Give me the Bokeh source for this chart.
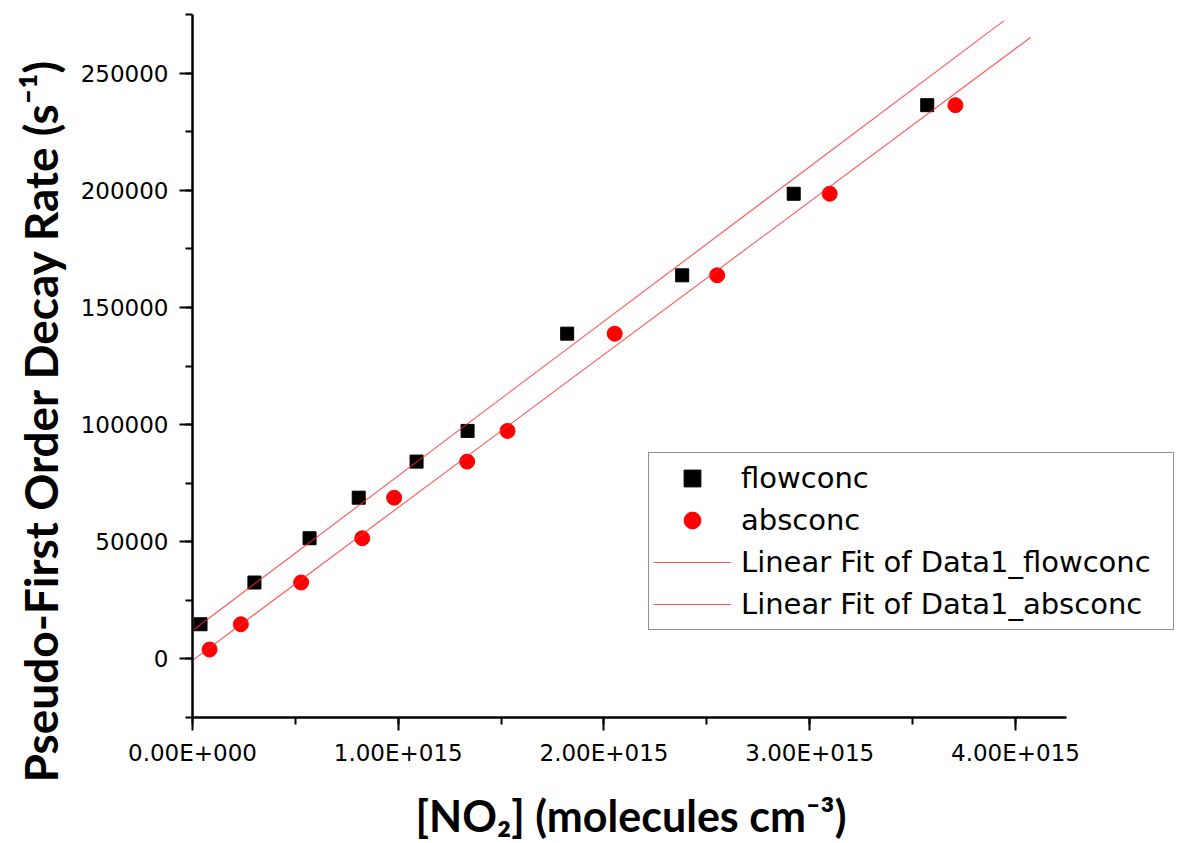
import math
from bokeh.plotting import figure
from bokeh.models import (Range1d, SingleIntervalTicker, CustomJSTickFormatter,
                          NumeralTickFormatter, Legend, LegendItem, Title)
from bokeh.embed import file_html
from bokeh.resources import INLINE

# ---- data ----
flow_x = [0.039e15, 0.301e15, 0.569e15, 0.808e15, 1.089e15, 1.337e15,
          1.821e15, 2.380e15, 2.922e15, 3.571e15]
flow_y = [14800, 32600, 51500, 68800, 84200, 97300, 138800, 163700, 198500, 236300]

abs_x = [0.083e15, 0.235e15, 0.528e15, 0.825e15, 0.980e15, 1.335e15,
         1.531e15, 2.052e15, 2.550e15, 3.097e15, 3.708e15]
abs_y = [4000, 14800, 32600, 51500, 68800, 84200, 97300, 138800, 163700, 198500, 236300]

flow_fit_x = [0.0, 3.943e15]
flow_fit_y = [12150, 272300]
abs_fit_x = [0.0, 4.073e15]
abs_fit_y = [-640, 265200]

x_axis_limits = (0.0, 4.25e15)
x_view = (0.0, 4.8214e15)      # frame runs on to the canvas edge so the legend can overhang
y_limits = (-25000, 275000)

series_names = ["flowconc", "absconc",
                "Linear Fit of Data1_flowconc", "Linear Fit of Data1_absconc"]
x_title = "[NO\u2082] (molecules cm\u207b\u00b3)"
y_title = "Pseudo-First Order Decay Rate (s\u207b\u00b9)"

TICK_FONT = "DejaVu Sans"
TITLE_FONT = "Lato"

p = figure(width=1184, height=843, output_backend="svg", toolbar_location=None,
           x_range=Range1d(*x_view), y_range=Range1d(*y_limits),
           min_border_left=192, min_border_right=0,
           min_border_top=14, min_border_bottom=126)
p.outline_line_color = None
p.grid.visible = False
p.background_fill_color = "white"
p.border_fill_color = "white"

r_flow = p.scatter(flow_x, flow_y, marker="square", size=13,
                   fill_color="black", line_color="black")
r_abs = p.scatter(abs_x, abs_y, marker="circle", size=15,
                  fill_color="#ff0000", line_color="#ff0000")
r_fit1 = p.line(flow_fit_x, flow_fit_y, line_color="#ff2a2a", line_width=1.1, line_alpha=0.8)
r_fit2 = p.line(abs_fit_x, abs_fit_y, line_color="#ff2a2a", line_width=1.1, line_alpha=0.8)

# axes
xa = p.xaxis[0]
ya = p.yaxis[0]
xa.bounds = x_axis_limits
xa.ticker = SingleIntervalTicker(interval=1e15, num_minor_ticks=2)
ya.ticker = SingleIntervalTicker(interval=50000, num_minor_ticks=2)
xa.formatter = CustomJSTickFormatter(code="""
if (tick == 0) return "0.00E+000";
const e = Math.floor(Math.log10(Math.abs(tick)) + 1e-9);
const m = tick / Math.pow(10, e);
const s = e < 0 ? "-" : "+";
return m.toFixed(2) + "E" + s + String(Math.abs(e)).padStart(3, "0");
""")
ya.formatter = NumeralTickFormatter(format="0")
for ax in (xa, ya):
    ax.axis_line_width = 2.5
    ax.axis_line_color = "black"
    ax.major_tick_line_width = 2
    ax.minor_tick_line_width = 2
    ax.major_tick_line_color = "black"
    ax.minor_tick_line_color = "black"
    ax.major_tick_out = 13
    ax.major_tick_in = 0
    ax.minor_tick_out = 7
    ax.minor_tick_in = 0
    ax.major_label_text_font = TICK_FONT
    ax.major_label_text_font_size = "23px"
    ax.major_label_text_color = "black"
ya.major_label_standoff = 11
xa.major_label_standoff = 9
xa.major_label_orientation = "horizontal"

# x title: axis label, padded on its right so it sits centred under the drawn axis
xa.axis_label = x_title + "\u00a0" * 11
xa.axis_label_text_font = TITLE_FONT
xa.axis_label_text_font_style = "bold"
xa.axis_label_text_font_size = "43px"
xa.axis_label_text_color = "black"
xa.axis_label_standoff = 21

# y title: side title starting low on the left
p.add_layout(Title(text=y_title, align="left", offset=-65, standoff=20,
                   text_font=TITLE_FONT, text_font_style="bold",
                   text_font_size="46px", text_color="black"), "left")

legend = Legend(items=[LegendItem(label=series_names[0], renderers=[r_flow]),
                       LegendItem(label=series_names[1], renderers=[r_abs]),
                       LegendItem(label=series_names[2], renderers=[r_fit1]),
                       LegendItem(label=series_names[3], renderers=[r_fit2])],
                location=(456, 87))
legend.border_line_color = "#222222"
legend.border_line_width = 1.5
legend.padding = 4
legend.margin = 0
legend.spacing = 0
legend.glyph_width = 78
legend.glyph_height = 42
legend.label_height = 42
legend.label_width = 428
legend.label_standoff = 10
legend.label_text_font = TICK_FONT
legend.label_text_font_size = "29px"
legend.label_text_color = "black"
legend.background_fill_color = "white"
legend.background_fill_alpha = 1.0
p.add_layout(legend)

open("out.html", "w").write(file_html(p, INLINE))
